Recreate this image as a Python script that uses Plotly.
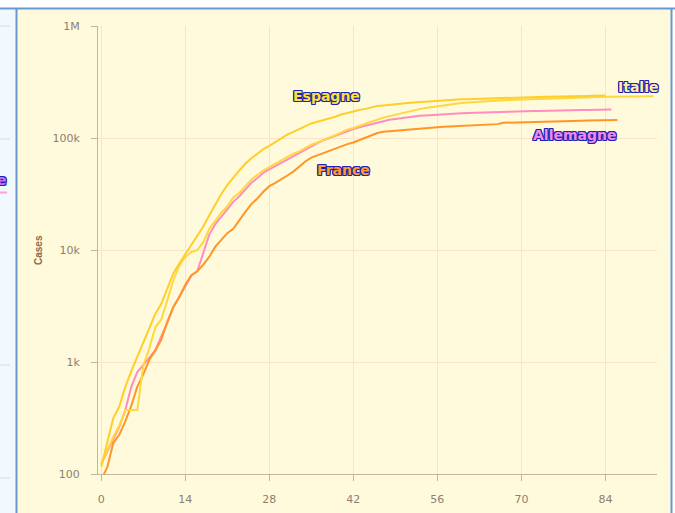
import plotly.graph_objects as go

# ---- data (cases since the 100th case, by day) ----
espagne = [116, 190, 316, 400, 600, 830, 1120, 1510, 2040, 2690,
           3310, 4470, 6170, 7590, 9120, 10960, 13490, 16220, 20420, 25700,
           31620, 38020, 44670, 51290, 58880, 66070, 72440, 79430, 85110, 92260,
           100000, 107150, 113500, 120200, 125900, 134900, 139600, 144500, 147900, 154900,
           162200, 167900, 171800, 177800, 182000, 188400, 192800, 195000, 198200, 200400,
           203200, 205600, 208000, 209900, 211800, 213800, 215800, 217800, 219300, 220300,
           221300, 222300, 223400, 224400, 225400, 226500, 227500, 229100, 230100, 230700,
           231200, 231700, 232300, 232800, 233300, 234400, 235000, 235500, 236000, 236600,
           237100, 237700, 238200, 238800, 239000]

italie = [124, 166, 214, 270, 372, 372, 372, 930, 1320, 2040,
          2400, 3550, 5370, 7240, 8710, 9550, 10000, 11750, 15490, 18200,
          21600, 24550, 29500, 32400, 37600, 42700, 46800, 51300, 55000, 58900,
          63100, 67600, 72400, 75900, 81300, 87100, 91200, 95500, 100000, 105900,
          112200, 118900, 123000, 128800, 134300, 140000, 145900, 152100, 156700, 162200,
          166700, 171800, 177400, 181100, 184900, 188400, 192300, 196300, 200400, 202800,
          205600, 208000, 209900, 212300, 213800, 214800, 216300, 217800, 218800, 219800,
          221300, 222300, 223900, 224900, 225900, 227000, 227500, 228600, 229100, 230100,
          231200, 231700, 232200, 232700, 233100, 233500, 233900, 234200, 234500, 234800,
          235100, 235400, 235600]

allemagne = [123, 158, 200, 263, 372, 603, 813, 955, 1096, 1274,
             1660, 2240, 3090, 3800, 4790, 5890, 6460, 9550, 13800, 17000,
             19950, 22900, 26900, 30200, 34700, 39800, 43650, 49000, 52500, 56200,
             60300, 64600, 69200, 74100, 79400, 85100, 90200, 95500, 100000, 104700,
             109600, 116100, 120200, 124500, 128800, 133400, 138000, 142900, 145500, 147900,
             150700, 153500, 156300, 157800, 159200, 160700, 162200, 163700, 164800, 165600,
             166300, 167100, 167900, 169000, 169800, 170600, 171400, 171800, 172600, 173000,
             173400, 173800, 174200, 174600, 175400, 175800, 176200, 176600, 177000, 177400,
             177800, 178200, 178600, 179100, 179500, 179900]

france = [89, 115, 190, 224, 295, 407, 603, 776, 1047, 1259,
          1585, 2290, 3090, 3800, 4900, 5960, 6460, 7410, 8710, 10700,
          12300, 14130, 15490, 18620, 21880, 25700, 28840, 33110, 37150, 39810,
          42660, 46240, 50120, 55590, 61660, 66830, 69980, 74130, 77620, 80350,
          84140, 88100, 91200, 95500, 100000, 105900, 110900, 113500, 114800, 116400,
          118000, 119400, 120500, 121600, 122700, 123900, 125000, 125900, 126800, 127600,
          128500, 129400, 130300, 131200, 131800, 132400, 133000, 136800, 137400, 138000,
          138700, 139300, 140000, 140300, 141000, 141300, 141600, 141900, 142200, 142600,
          142900, 143200, 143600, 143900, 144200, 144500, 144600]

x_ticks = [0, 14, 28, 42, 56, 70, 84]
y_ticks = [100, 1000, 10000, 100000, 1000000]
y_tick_labels = ["100", "1k", "10k", "100k", "1M"]

# ---- layout geometry (pixels) ----
W, H = 675, 513
L, R, T, B = 98, 657, 26, 474
PW, PH = R - L, B - T


def px(xp):
    return (xp - L) / PW


def py(yp):
    return (B - yp) / PH


series = [
    ("Allemagne", allemagne, "#FF8DBE"),
    ("France", france, "#FF9626"),
    ("Italie", italie, "#FFD83E"),
    ("Espagne", espagne, "#FFCE2A"),
]

fig = go.Figure()
for name, vals, col in series:
    fig.add_trace(go.Scatter(
        x=list(range(len(vals))), y=vals, mode="lines", name=name,
        line=dict(color=col, width=2), hoverinfo="skip"))

grid = "#FBE4C6"
axis_col = "#C9B497"
tick_font = dict(family="DejaVu Sans", size=11, color="#8E7F70")

fig.update_xaxes(range=[-0.55, 92.6], tickvals=x_ticks, showgrid=True, gridcolor=grid,
                 gridwidth=1, showline=True, linecolor=axis_col, linewidth=1,
                 ticks="outside", ticklen=6, tickcolor=axis_col, tickfont=tick_font,
                 zeroline=False, ticklabelstandoff=9, automargin=False)
fig.update_yaxes(type="log", range=[2, 6], tickvals=y_ticks, ticktext=y_tick_labels,
                 showgrid=True, gridcolor=grid, gridwidth=1, showline=True,
                 linecolor=axis_col, linewidth=1, ticks="outside", ticklen=6,
                 tickcolor=axis_col, tickfont=tick_font, zeroline=False,
                 ticklabelstandoff=9, automargin=False)

outline = "#1E22B4"
shadow = (f"1px 0px 0px {outline}, -1px 0px 0px {outline}, 0px 1px 0px {outline}, "
          f"0px -1px 0px {outline}, 1px 1px 0px {outline}, -1px -1px 0px {outline}, "
          f"1px -1px 0px {outline}, -1px 1px 0px {outline}")


def lab_font(col):
    return dict(family="DejaVu Sans", size=14, color=col, weight="bold", shadow=shadow)


labels = [
    ("Espagne", 37.5, 5.378, "#FFE03A"),
    ("Italie", 89.4, 5.458, "#FFF0A0"),
    ("Allemagne", 78.8, 5.03, "#F08AE6"),
    ("France", 40.3, 4.71, "#FF9A2E"),
]
annotations = []
for text, xd, yl, col in labels:
    annotations.append(dict(x=xd, y=yl, xref="x", yref="y", text=text, showarrow=False,
                            font=lab_font(col), xanchor="center", yanchor="middle"))

# partial label from the neighbouring panel
annotations.append(dict(x=px(9), y=py(180), xref="paper", yref="paper", text="e",
                        showarrow=False, font=lab_font("#C872EC"), xanchor="right",
                        yanchor="middle"))
# axis title
annotations.append(dict(x=px(38), y=py(250), xref="paper", yref="paper", text="Cases",
                        showarrow=False, textangle=-90,
                        font=dict(family="Liberation Sans", size=10, color="#8A6A4C",
                                  weight="bold"),
                        xanchor="center", yanchor="middle"))

shapes = [
    # main yellow frame
    dict(type="rect", xref="paper", yref="paper", x0=px(17), x1=px(671), y0=py(H), y1=py(9),
         fillcolor="#FFFADC", line=dict(width=0), layer="below"),
    # neighbouring panel on the left
    dict(type="rect", xref="paper", yref="paper", x0=px(0), x1=px(16), y0=py(H), y1=py(9),
         fillcolor="#F1F9FF", line=dict(width=0), layer="below"),
]
for yy in (26, 139, 365, 478):
    shapes.append(dict(type="line", xref="paper", yref="paper", x0=px(0), x1=px(10),
                       y0=py(yy), y1=py(yy), line=dict(color="#D6DCE6", width=1),
                       layer="below"))
shapes += [
    dict(type="line", xref="paper", yref="paper", x0=px(0), x1=px(7), y0=py(192.5),
         y1=py(192.5), line=dict(color="#F6A6D8", width=2)),
    dict(type="line", xref="paper", yref="paper", x0=px(0), x1=px(675), y0=py(8.5),
         y1=py(8.5), line=dict(color="#6A98D2", width=2)),
    dict(type="line", xref="paper", yref="paper", x0=px(16.5), x1=px(16.5), y0=py(H),
         y1=py(8), line=dict(color="#6A98D2", width=2)),
    dict(type="line", xref="paper", yref="paper", x0=px(671.5), x1=px(671.5), y0=py(H),
         y1=py(8), line=dict(color="#6A98D2", width=2)),
]

fig.update_layout(
    width=W, height=H, autosize=False,
    margin=dict(l=L, r=W - R, t=T, b=H - B, pad=0, autoexpand=False),
    paper_bgcolor="#FFFFFF", plot_bgcolor="#FFFADC",
    showlegend=False, hovermode=False,
    annotations=annotations, shapes=shapes,
)

fig.write_html(
    "out.html",
    config={"displayModeBar": False},
    post_script="document.body.style.margin='0';document.body.style.padding='0';"
                "document.body.style.overflow='hidden';",
)
